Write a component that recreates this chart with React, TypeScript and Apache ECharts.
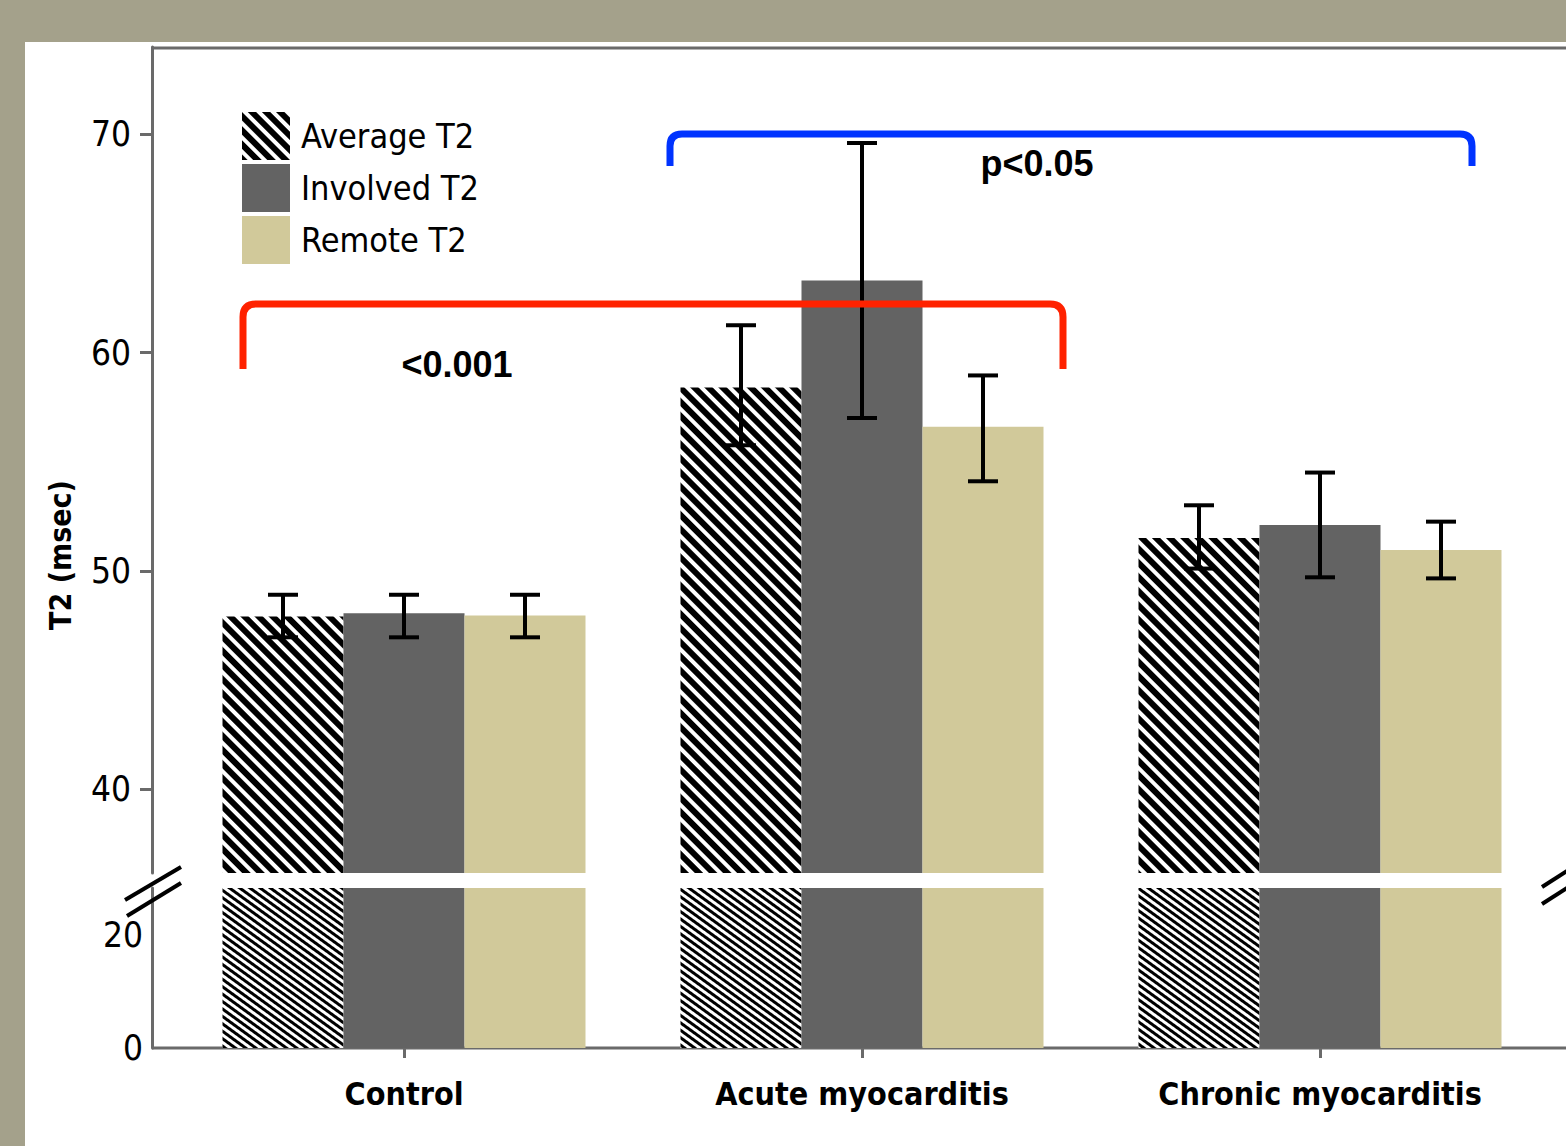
import React, { useEffect, useRef } from "react";
import * as echarts from "echarts";

const categories = ["Control", "Acute myocarditis", "Chronic myocarditis"];
const seriesNames = ["Average T2", "Involved T2", "Remote T2"];
const averageT2 = [47.9, 58.4, 51.5];
const involvedT2 = [48.05, 63.3, 52.1];
const remoteT2 = [47.95, 56.6, 50.95];
const averageErr = [[46.95, 48.9], [55.75, 61.25], [50.1, 53.0]];
const involvedErr = [[46.95, 48.9], [57.0, 69.6], [49.7, 54.5]];
const remoteErr = [[46.95, 48.9], [54.1, 58.95], [49.65, 52.25]];
const upperTicks = [40, 50, 60, 70];
const lowerTicks = [0, 20];
const pValueLabels = ["<0.001", "p<0.05"];
const yAxisTitle = "T2 (msec)";

const NARROW = "'DejaVu Sans Condensed','Liberation Sans Narrow','Liberation Sans',sans-serif";
const BOLD = "'Liberation Sans',Arial,sans-serif";
const AXIS = "#6a6a6a";
const BAR_W = 121;

echarts.graphic.registerShape(
  "redBracket",
  echarts.graphic.extendPath("M243 369 L243 317 Q243 304 256 304 L1050 304 Q1063 304 1063 317 L1063 369", {})
);
echarts.graphic.registerShape(
  "blueBracket",
  echarts.graphic.extendPath("M670 166 L670 146 Q670 134 682 134 L1460 134 Q1472 134 1472 146 L1472 166", {})
);

export default function App() {
  const ref = useRef<HTMLDivElement>(null);
  useEffect(() => {
    const chart = echarts.init(ref.current!, null, { renderer: "svg" });
    const values = [averageT2, involvedT2, remoteT2];
    const errs = [averageErr, involvedErr, remoteErr];
    const colors = ["#ffffff", "#636363", "#d1c99a"];
    const decalUpper = {
      symbol: "rect",
      symbolSize: 1,
      dashArrayX: [1, 0],
      dashArrayY: [6, 4],
      rotation: Math.PI / 4,
      color: "#000",
    };
    const decalLower = {
      symbol: "rect",
      symbolSize: 1,
      dashArrayX: [1, 0],
      dashArrayY: [3, 3],
      rotation: Math.PI / 5,
      color: "#000",
    };
    const series: any[] = [];
    [0, 1].forEach((g) => {
      values.forEach((v, i) => {
        series.push({
          type: "bar",
          name: seriesNames[i],
          xAxisIndex: g,
          yAxisIndex: g,
          data: v,
          barWidth: BAR_W,
          barGap: "0%",
          clip: true,
          itemStyle: {
            color: colors[i],
            decal: i === 0 ? (g === 0 ? decalUpper : decalLower) : undefined,
          },
        });
      });
    });
    errs.forEach((e, i) => {
      series.push({
        type: "custom",
        name: seriesNames[i] + " error",
        xAxisIndex: 0,
        yAxisIndex: 0,
        data: e.map((d, k) => [k, d[0], d[1]]),
        encode: { x: 0, y: [1, 2] },
        z: 10,
        renderItem: (params: any, api: any) => {
          const pLo = api.coord([api.value(0), api.value(1)]);
          const pHi = api.coord([api.value(0), api.value(2)]);
          const x = pLo[0] + (i - 1) * BAR_W;
          const st = { stroke: "#000", lineWidth: 4 };
          return {
            type: "group",
            children: [
              { type: "line", shape: { x1: x, y1: pHi[1], x2: x, y2: pLo[1] }, style: st },
              { type: "line", shape: { x1: x - 15, y1: pHi[1], x2: x + 15, y2: pHi[1] }, style: st },
              { type: "line", shape: { x1: x - 15, y1: pLo[1], x2: x + 15, y2: pLo[1] }, style: st },
            ],
          };
        },
      });
    });

    chart.setOption({
      animation: false,
      backgroundColor: "#a4a18b",
      grid: [
        { left: 175, right: 17, top: 47, height: 826 },
        { left: 175, right: 17, top: 888, height: 160 },
      ],
      xAxis: [
        {
          type: "category",
          gridIndex: 0,
          data: categories,
          axisLine: { show: false },
          axisTick: { show: false },
          axisLabel: { show: false },
        },
        {
          type: "category",
          gridIndex: 1,
          data: categories,
          axisLine: { show: false },
          axisTick: { show: true, alignWithLabel: true, length: 10, lineStyle: { color: AXIS, width: 3 } },
          axisLabel: {
            interval: 0,
            margin: 30,
            fontFamily: NARROW,
            fontWeight: "bold",
            fontSize: 32,
            color: "#000",
          },
        },
      ],
      yAxis: [
        {
          type: "value",
          gridIndex: 0,
          min: 36.15,
          max: 74,
          offset: 23,
          splitLine: { show: false },
          axisLine: { show: true, lineStyle: { color: AXIS, width: 3 } },
          axisTick: { show: true, length: 12, customValues: upperTicks, lineStyle: { color: AXIS, width: 3 } },
          axisLabel: {
            customValues: upperTicks,
            margin: 21,
            fontFamily: NARROW,
            fontSize: 35,
            color: "#000",
          },
        },
        {
          type: "value",
          gridIndex: 1,
          min: 0,
          max: 28.3,
          offset: 23,
          splitLine: { show: false },
          axisLine: { show: true, lineStyle: { color: AXIS, width: 3 } },
          axisTick: { show: false },
          axisLabel: {
            customValues: lowerTicks,
            margin: 9,
            fontFamily: NARROW,
            fontSize: 35,
            color: "#000",
          },
        },
      ],
      legend: {
        data: seriesNames,
        orient: "vertical",
        left: 242,
        top: 112,
        padding: 0,
        itemWidth: 48,
        itemHeight: 48,
        itemGap: 4,
        icon: "rect",
        textStyle: { fontFamily: NARROW, fontSize: 34, color: "#000", padding: [0, 0, 0, 6] },
      },
      graphic: [
        { type: "rect", z: -10, shape: { x: 25, y: 42, width: 1600, height: 1200 }, style: { fill: "#ffffff" } },
        { type: "line", shape: { x1: 152, y1: 48, x2: 1566, y2: 48 }, style: { stroke: AXIS, lineWidth: 3 } },
        { type: "line", shape: { x1: 152, y1: 1048, x2: 1566, y2: 1048 }, style: { stroke: AXIS, lineWidth: 3 } },
        { type: "line", z: 20, shape: { x1: 125, y1: 900, x2: 181, y2: 867 }, style: { stroke: "#000", lineWidth: 4 } },
        { type: "line", z: 20, shape: { x1: 127, y1: 916, x2: 181, y2: 883 }, style: { stroke: "#000", lineWidth: 4 } },
        { type: "line", z: 20, shape: { x1: 1542, y1: 887, x2: 1570, y2: 869 }, style: { stroke: "#000", lineWidth: 4 } },
        { type: "line", z: 20, shape: { x1: 1542, y1: 904, x2: 1570, y2: 886 }, style: { stroke: "#000", lineWidth: 4 } },
        { type: "redBracket", z: 30, x: 0, y: 0, style: { stroke: "#ff2200", lineWidth: 7, fill: "none" } },
        { type: "blueBracket", z: 30, x: 0, y: 0, style: { stroke: "#0033ff", lineWidth: 7, fill: "none" } },
        {
          type: "text", z: 30, x: 457, y: 364,
          style: { text: pValueLabels[0], font: `bold 36px ${BOLD}`, fill: "#000", align: "center", verticalAlign: "middle" },
        },
        {
          type: "text", z: 30, x: 1037, y: 163,
          style: { text: pValueLabels[1], font: `bold 36px ${BOLD}`, fill: "#000", align: "center", verticalAlign: "middle" },
        },
        {
          type: "text", z: 30, x: 60, y: 555, rotation: Math.PI / 2,
          style: { text: yAxisTitle, font: `bold 30px ${NARROW}`, fill: "#000", align: "center", verticalAlign: "middle" },
        },
      ],
      series,
    });
    return () => chart.dispose();
  }, []);
  return <div ref={ref} style={{ position: "absolute", left: 0, top: 0, width: 1566, height: 1146 }} />;
}
